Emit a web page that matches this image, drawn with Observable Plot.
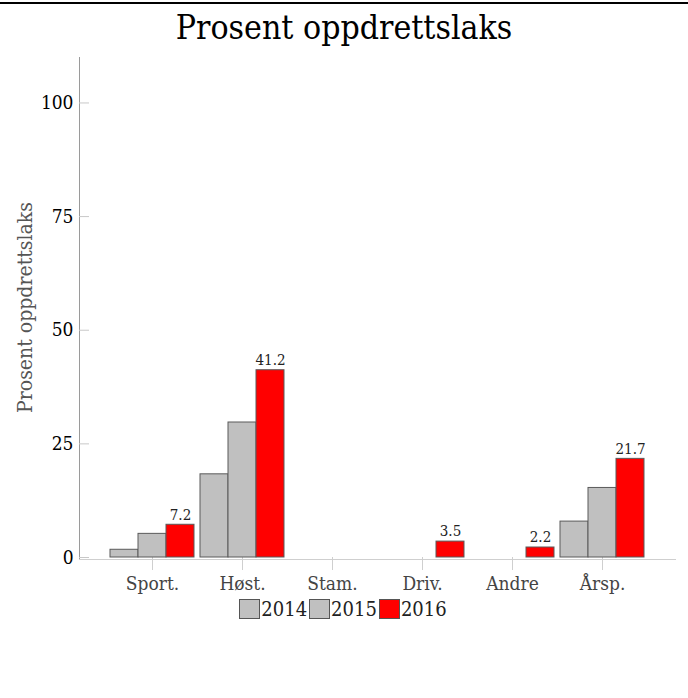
<!DOCTYPE html>
<html>
<head>
<meta charset="utf-8">
<script src="https://cdn.jsdelivr.net/npm/d3@7"></script>
<script src="https://cdn.jsdelivr.net/npm/@observablehq/plot@0.6"></script>
<style>
  html, body { margin: 0; padding: 0; background: #fff; }
  body { width: 688px; height: 698px; position: relative; overflow: hidden;
         font-family: "DejaVu Serif Condensed", "DejaVu Serif", serif; font-stretch: condensed; }
  #topline { position: absolute; left: 0; top: 2px; width: 688px; height: 2px; background: #000; }
  #title { position: absolute; left: 0; top: 10px; width: 688px; text-align: center;
           font-size: 33.5px; line-height: 36px; color: #000; }
  #chart { position: absolute; left: 0; top: 50px; }
  #legend { position: absolute; left: 0; top: 597px; width: 688px; display: flex;
            justify-content: center; align-items: center; font-size: 20px; color: #222; }
  .item { display: flex; align-items: center; margin-right: 2px; }
  .sw { width: 19px; height: 18px; border: 1px solid #555; margin-right: 1px; }
</style>
</head>
<body>
<div id="topline"></div>
<div id="title"></div>
<div id="chart"></div>
<div id="legend"></div>
<script>
const titleText = "Prosent oppdrettslaks";
const yLabel = "Prosent oppdrettslaks";
const categories = ["Sport.", "Høst.", "Stam.", "Driv.", "Andre", "Årsp."];
const years = ["2014", "2015", "2016"];
const values2014 = [1.7, 18.3, null, null, null, 7.9];
const values2015 = [5.2, 29.7, null, null, null, 15.3];
const values2016 = [7.2, 41.2, null, 3.5, 2.2, 21.7];
const yearColors = ["#c0c0c0", "#c0c0c0", "#ff0000"];
const yTicks = [0, 25, 50, 75, 100];
const labelledYear = "2016";

const FONT = '"DejaVu Serif Condensed", "DejaVu Serif", serif';
const series = [values2014, values2015, values2016];
const rows = [];
categories.forEach((c, i) => {
  years.forEach((y, j) => rows.push({category: c, year: y, value: series[j][i]}));
});

document.getElementById("title").textContent = titleText;

// gap between the y axis / x-axis line ends and the outer bar groups
const axisGap = 31;

const chart = Plot.plot({
  width: 688,
  height: 545,
  marginTop: 7,
  marginBottom: 38,
  marginLeft: 108,
  marginRight: 42,
  style: {fontFamily: FONT, fontStretch: "condensed", background: "transparent", overflow: "visible"},
  fx: {domain: categories, paddingInner: 0.066, paddingOuter: 0, axis: null, label: null},
  x: {domain: years, padding: 0, axis: null},
  y: {domain: [0, 110], axis: null},
  color: {domain: years, range: yearColors},
  marks: [
    Plot.frame({anchor: "left", facet: "super", stroke: "#9a9a9a", insetLeft: -axisGap, insetBottom: -2}),
    Plot.frame({anchor: "bottom", facet: "super", stroke: "#cfcfcf", insetLeft: -axisGap, insetRight: -axisGap, insetBottom: -2}),
    Plot.axisY({ticks: yTicks, tickSize: -10, tickPadding: 16, stroke: "#c8c8c8", fill: "#000",
                fontSize: 19, label: null, facetAnchor: "left", dx: -axisGap}),
    Plot.axisY({ticks: [], label: yLabel, labelAnchor: "center", labelOffset: 93, labelArrow: "none",
                fontSize: 21, fill: "#555", facetAnchor: "left"}),
    Plot.axisFx({anchor: "bottom", tickSize: 13, tickPadding: 6, fontSize: 19, fill: "#444",
                 stroke: "#cfcfcf", label: null}),
    Plot.barY(rows, {fx: "category", x: "year", y: "value", fill: "year", stroke: "#5a5a5a",
                     strokeWidth: 1, filter: d => d.value != null}),
    Plot.text(rows, {filter: d => d.year === labelledYear && d.value != null,
                     fx: "category", x: "year", y: "value",
                     text: d => d.value == null ? null : d.value.toFixed(1),
                     dy: -10, fontSize: 15, fill: "#222"})
  ]
});
document.getElementById("chart").appendChild(chart);

const legend = document.getElementById("legend");
years.forEach((y, j) => {
  const item = document.createElement("div");
  item.className = "item";
  const sw = document.createElement("div");
  sw.className = "sw";
  sw.style.background = yearColors[j];
  const t = document.createElement("span");
  t.textContent = y;
  item.appendChild(sw);
  item.appendChild(t);
  legend.appendChild(item);
});
</script>
</body>
</html>
